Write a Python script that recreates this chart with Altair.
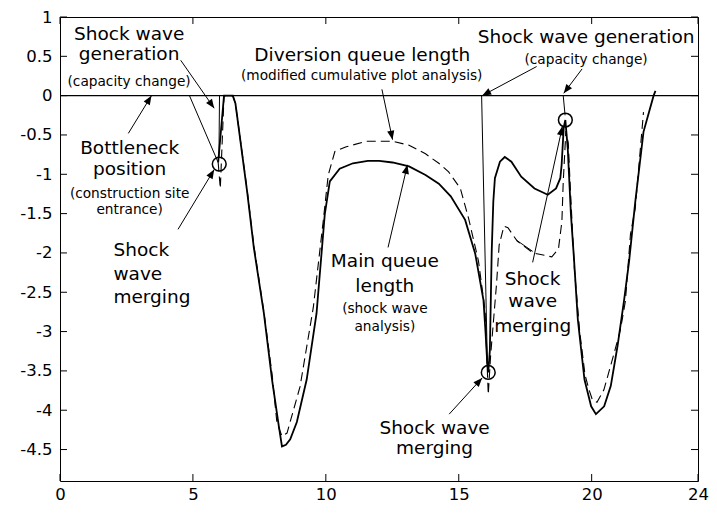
import math
import altair as alt
import pandas as pd

# ---------------- data ----------------
# Main queue length (shock wave analysis) - solid curve
main_x = [5.95, 6.17, 6.5, 6.6, 7.04, 7.29, 7.67, 7.98, 8.23, 8.35, 8.5, 8.66, 8.91, 9.28, 9.65,
          9.96, 10.15, 10.52, 11.02, 11.58, 12.01, 12.51, 13.13, 13.75, 14.25, 14.7, 15.24, 15.62,
          15.93, 16.01, 16.08, 16.11, 16.17, 16.24, 16.30, 16.36, 16.55, 16.73, 16.98, 17.35, 17.85,
          18.35, 18.66, 18.82, 18.87, 18.95, 19.01, 19.10, 19.22, 19.33, 19.48, 19.73, 19.98, 20.16,
          20.47, 20.72, 20.97, 21.22, 21.41, 21.64, 21.95, 22.33, 22.40]
main_y = [-0.85, 0.0, 0.0, -0.1, -1.22, -1.93, -2.77, -3.62, -4.2, -4.46, -4.44, -4.37, -4.15, -3.61,
          -2.77, -1.51, -1.09, -0.93, -0.86, -0.83, -0.83, -0.85, -0.90, -1.01, -1.12, -1.28, -1.58,
          -2.01, -2.6, -3.02, -3.45, -3.52, -3.24, -1.98, -1.35, -1.05, -0.84, -0.78, -0.84, -1.03,
          -1.18, -1.26, -1.18, -1.05, -0.88, -0.4, -0.31, -0.67, -1.51, -2.05, -2.85, -3.61, -3.95,
          -4.05, -3.95, -3.69, -3.19, -2.6, -2.1, -1.35, -0.46, 0.0, 0.06]

# Diversion queue length (modified cumulative plot analysis) - dashed curve
div_x = [5.95, 6.03, 6.1, 6.17, 6.5, 6.6, 7.04, 7.29, 7.67, 7.98, 8.16, 8.35, 8.54, 9.03, 9.53, 9.90,
         10.09, 10.34, 10.77, 11.52, 12.51, 13.13, 13.75, 14.25, 14.62, 15.06, 15.37, 15.74, 15.99,
         16.11, 16.2, 16.42, 16.52, 16.7, 16.85, 17.2, 17.8, 18.5, 18.75, 18.88, 18.93, 19.03, 19.12,
         19.2, 19.35, 19.55, 19.75, 19.9, 20.03, 20.2, 20.46, 20.84, 21.08, 21.27, 21.46, 21.64, 21.95]
div_y = [-0.85, -1.18, -0.6, 0.0, 0.0, -0.1, -1.2, -1.9, -2.75, -3.55, -4.16, -4.33, -4.29, -3.70,
         -2.69, -1.6, -1.01, -0.71, -0.65, -0.58, -0.58, -0.63, -0.74, -0.86, -0.97, -1.18, -1.56,
         -2.1, -2.73, -3.8, -3.3, -2.4, -1.9, -1.66, -1.68, -1.85, -2.0, -2.05, -1.95, -1.6, -1.1,
         -0.45, -0.6, -1.2, -2.2, -3.0, -3.55, -3.74, -3.87, -3.9, -3.74, -3.28, -2.98, -2.61, -1.76,
         -1.43, -0.21]

# thin shock-wave segments (no heads)
seg_x1 = [4.87, 6.0, 15.86, 18.93, 17.78]
seg_y1 = [0.0, 0.0, 0.0, 0.0, -1.98]
seg_x2 = [5.95, 5.98, 16.08, 19.0, 17.18]
seg_y2 = [-0.85, -0.78, -3.45, -0.25, -1.84]

# circles marking merge points
circ_x = [5.99, 16.11, 19.01]
circ_y = [-0.87, -3.52, -0.31]

# annotation arrows (start -> tip)
arr_x1 = [4.54, 2.57, 4.44, 12.11, 12.34, 17.93, 19.64, 17.78, 14.64]
arr_y1 = [0.45, -0.48, -1.70, 0.08, -1.93, 0.37, 0.34, -2.12, -4.05]
arr_x2 = [5.80, 3.44, 5.80, 12.51, 13.07, 15.88, 18.95, 18.90, 15.88]
arr_y2 = [-0.16, 0.0, -0.94, -0.56, -0.88, 0.0, 0.03, -0.39, -3.59]

# annotation texts (centered)
BIG, SMALL = 18.5, 13.7
txt = ["Shock wave", "generation", "(capacity change)", "Bottleneck", "position",
       "(construction site", "entrance)", "Diversion queue length",
       "(modified cumulative plot analysis)", "Shock wave generation", "(capacity change)",
       "Main queue", "length", "(shock wave", "analysis)", "Shock", "wave", "merging",
       "Shock wave", "merging"]
txt_x = [2.6, 2.6, 2.6, 2.62, 2.62, 2.62, 2.62, 11.37, 11.35, 19.79, 19.79,
         12.22, 12.22, 12.22, 12.22, 17.78, 17.78, 17.78, 14.09, 14.09]
txt_y = [0.71, 0.45, 0.12, -0.74, -1.01, -1.30, -1.51, 0.44, 0.2, 0.67, 0.40,
         -2.18, -2.50, -2.77, -2.99, -2.41, -2.69, -3.0, -4.30, -4.56]
txt_s = [BIG, BIG, SMALL, BIG, BIG, SMALL, SMALL, BIG, SMALL, BIG, SMALL,
         BIG, BIG, SMALL, SMALL, BIG, BIG, BIG, BIG, BIG]
# left-aligned annotation
ltxt = ["Shock", "wave", "merging"]
ltxt_x = [2.01, 2.01, 2.01]
ltxt_y = [-2.04, -2.35, -2.64]

x_ticks = [0, 5, 10, 15, 20, 24]
y_ticks = [1, 0.5, 0, -0.5, -1, -1.5, -2, -2.5, -3, -3.5, -4, -4.5]

# ---------------- chart ----------------
W, H = 638, 464
XD, YD = [0, 24], [-4.9, 1]
FONT = "DejaVu Sans"
TICK = 7

xs = alt.Scale(domain=XD, nice=False, zero=False)
ys = alt.Scale(domain=YD, nice=False, zero=False)

x_axis = alt.Axis(values=x_ticks, labelFlush=False, labelPadding=5,
                  labelExpr="toString(datum.value)", title=None)
y_axis = alt.Axis(values=y_ticks, labelPadding=8,
                  labelExpr="toString(datum.value)", title=None)


def X(field):
    return alt.X(field, scale=xs, axis=x_axis)


def Y(field):
    return alt.Y(field, scale=ys, axis=y_axis)


df_main = pd.DataFrame({"x": main_x, "y": main_y, "i": range(len(main_x))})
df_div = pd.DataFrame({"x": div_x, "y": div_y, "i": range(len(div_x))})

main = alt.Chart(df_main).mark_line(color="black", strokeWidth=1.8).encode(
    x=X("x:Q"), y=Y("y:Q"), order="i:Q")

div = alt.Chart(df_div).mark_line(color="black", strokeWidth=1.1, strokeDash=[9, 5]).encode(
    x=X("x:Q"), y=Y("y:Q"), order="i:Q")

zero = alt.Chart(pd.DataFrame({"y": [0]})).mark_rule(color="black", strokeWidth=1.2).encode(
    y=Y("y:Q"))

segs = alt.Chart(pd.DataFrame({"x1": seg_x1, "y1": seg_y1, "x2": seg_x2, "y2": seg_y2})).mark_rule(
    color="black", strokeWidth=1).encode(
    x=X("x1:Q"), y=Y("y1:Q"), x2="x2:Q", y2="y2:Q")

sx, sy = W / (XD[1] - XD[0]), H / (YD[1] - YD[0])
angles = []
for a, b, c, d in zip(arr_x1, arr_y1, arr_x2, arr_y2):
    dxp = (c - a) * sx
    dyp = -(d - b) * sy
    angles.append(math.degrees(math.atan2(dxp, -dyp)) % 360)

df_arr = pd.DataFrame({"x1": arr_x1, "y1": arr_y1, "x2": arr_x2, "y2": arr_y2, "ang": angles})
shafts = alt.Chart(df_arr).mark_rule(color="black", strokeWidth=1).encode(
    x=X("x1:Q"), y=Y("y1:Q"), x2="x2:Q", y2="y2:Q")
ARROW = "M0,0L-0.4,1L0.4,1Z"
heads = alt.Chart(df_arr).mark_point(shape=ARROW, filled=True, size=324, color="black",
                                     opacity=1, strokeWidth=0).encode(
    x=X("x2:Q"), y=Y("y2:Q"), angle=alt.Angle("ang:Q", scale=None))

circles = alt.Chart(pd.DataFrame({"x": circ_x, "y": circ_y})).mark_point(
    shape="circle", filled=False, size=190, strokeWidth=1.5, color="black", opacity=1).encode(
    x=X("x:Q"), y=Y("y:Q"))

texts = alt.Chart(pd.DataFrame({"t": txt, "x": txt_x, "y": txt_y, "s": txt_s})).mark_text(
    font=FONT, baseline="alphabetic", align="center", color="black").encode(
    x=X("x:Q"), y=Y("y:Q"), text="t:N", size=alt.Size("s:Q", scale=None))

ltexts = alt.Chart(pd.DataFrame({"t": ltxt, "x": ltxt_x, "y": ltxt_y})).mark_text(
    font=FONT, baseline="alphabetic", align="left", color="black", fontSize=BIG).encode(
    x=X("x:Q"), y=Y("y:Q"), text="t:N")

df_xt = pd.DataFrame({"v": x_ticks})
df_yt = pd.DataFrame({"v": y_ticks})
t_bottom = alt.Chart(df_xt).mark_rule(color="black", strokeWidth=1).encode(
    x=X("v:Q"), y=alt.value(H), y2=alt.value(H - TICK))
t_top = alt.Chart(df_xt).mark_rule(color="black", strokeWidth=1).encode(
    x=X("v:Q"), y=alt.value(0), y2=alt.value(TICK))
t_left = alt.Chart(df_yt).mark_rule(color="black", strokeWidth=1).encode(
    y=Y("v:Q"), x=alt.value(0), x2=alt.value(TICK))
t_right = alt.Chart(df_yt).mark_rule(color="black", strokeWidth=1).encode(
    y=Y("v:Q"), x=alt.value(W), x2=alt.value(W - TICK))

chart = alt.layer(
    main, zero, div, segs, shafts, heads, circles, texts, ltexts,
    t_bottom, t_top, t_left, t_right
).properties(
    width=W, height=H,
    autosize=alt.AutoSizeParams(type="none"),
    padding={"left": 52, "top": 9, "right": 11, "bottom": 24},
    background="white",
).configure_view(
    stroke="black", strokeWidth=1
).configure_axis(
    ticks=False, domain=False, grid=False, labelFont=FONT, labelFontSize=16.5,
    labelColor="black", labelOverlap=False
)

chart.save("out.html", embed_options={"renderer": "svg", "actions": False})
